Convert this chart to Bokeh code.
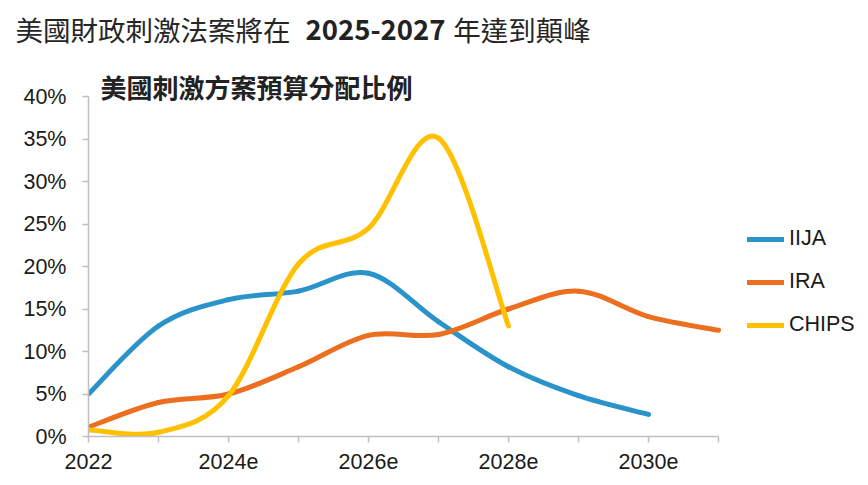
from bokeh.plotting import figure
from bokeh.models import (Range1d, FixedTicker, Legend, LegendItem, Label,
                          PrintfTickFormatter, ColumnDataSource)
from bokeh.embed import file_html
from bokeh.resources import INLINE

# ---- data ----
years = [2022, 2023, 2024, 2025, 2026, 2027, 2028, 2029, 2030, 2031]
tick_labels = ["2022", "", "2024e", "", "2026e", "", "2028e", "", "2030e", ""]
iija = [5.0, 13.0, 16.1, 17.1, 19.2, 13.5, 8.2, 4.8, 2.6]
ira = [1.1, 4.0, 5.0, 8.2, 11.9, 12.0, 15.0, 17.1, 14.1, 12.5]
chips = [0.8, 0.5, 4.8, 20.3, 24.5, 35.1, 13.0]
series_names = ["IIJA", "IRA", "CHIPS"]
series_colors = ["#2A93C9", "#EC6E1F", "#FFC000"]

title_a = "美國財政刺激法案將在"
title_b = "2025-2027"
title_c = "年達到顛峰"
subtitle = "美國刺激方案預算分配比例"
y_ticks = [0, 5, 10, 15, 20, 25, 30, 35, 40]

CJK = "Noto Sans CJK TC"
SANS = "Liberation Sans"

# ---- layout constants (pixels) ----
W, H = 868, 485
LEFT, TOP, BOTTOM = 88, 70, 49
PX_PER_YEAR = 70.0
PX_PER_PCT = 8.5
GAP = "\u3000" * 5 + "\u2002\u2005\u2006"   # room for the bold part of the title


def smooth_segments(xs, ys):
    """Cubic Bezier control points (Catmull-Rom style) for a smoothed line."""
    n = len(xs)
    d = dict(x0=[], y0=[], x1=[], y1=[], cx0=[], cy0=[], cx1=[], cy1=[])
    for i in range(n - 1):
        xp, yp = (xs[i - 1], ys[i - 1]) if i > 0 else (xs[i], ys[i])
        xn, yn = (xs[i + 2], ys[i + 2]) if i + 2 < n else (xs[i + 1], ys[i + 1])
        d["x0"].append(xs[i]); d["y0"].append(ys[i])
        d["x1"].append(xs[i + 1]); d["y1"].append(ys[i + 1])
        d["cx0"].append(xs[i] + (xs[i + 1] - xp) / 6.0)
        d["cy0"].append(ys[i] + (ys[i + 1] - yp) / 6.0)
        d["cx1"].append(xs[i + 1] - (xn - xs[i]) / 6.0)
        d["cy1"].append(ys[i + 1] - (yn - ys[i]) / 6.0)
    return ColumnDataSource(d)


x_end = years[0] + (W - LEFT) / PX_PER_YEAR
y_end = (H - TOP - BOTTOM) / PX_PER_PCT

p = figure(width=W, height=H, output_backend="svg", toolbar_location=None,
           x_range=Range1d(years[0], x_end), y_range=Range1d(0, y_end),
           min_border_left=LEFT, min_border_right=0, min_border_top=TOP,
           min_border_bottom=BOTTOM)
p.outline_line_color = None
p.xgrid.visible = False
p.ygrid.visible = False

for ax in (p.xaxis[0], p.yaxis[0]):
    ax.axis_line_color = "#BFBFBF"
    ax.axis_line_width = 1.5
    ax.major_tick_line_color = "#BFBFBF"
    ax.major_tick_line_width = 1.5
    ax.major_tick_in = 0
    ax.major_tick_out = 6
    ax.minor_tick_line_color = None
    ax.major_label_text_font = SANS
    ax.major_label_text_font_size = "21.5px"
    ax.major_label_text_color = "#1A1A1A"

p.xaxis.ticker = FixedTicker(ticks=years)
p.xaxis.bounds = (years[0], years[-1])
p.xaxis.major_label_overrides = {y: lab for y, lab in zip(years, tick_labels)}
p.xaxis.major_label_standoff = 11
p.yaxis.ticker = FixedTicker(ticks=y_ticks)
p.yaxis.bounds = (y_ticks[0], y_ticks[-1])
p.yaxis.formatter = PrintfTickFormatter(format="%d%%")
p.yaxis.major_label_standoff = 16

items = []
for name, vals, col in zip(series_names, [iija, ira, chips], series_colors):
    src = smooth_segments(years[:len(vals)], vals)
    r = p.bezier(x0="x0", y0="y0", x1="x1", y1="y1", cx0="cx0", cy0="cy0",
                 cx1="cx1", cy1="cy1", source=src, line_color=col,
                 line_width=5, line_cap="round")
    items.append(LegendItem(label=name, renderers=[r]))

legend = Legend(items=items, location=(659, 99), orientation="vertical",
                padding=0, margin=0, spacing=18, glyph_width=37,
                glyph_height=24, label_height=24, label_standoff=5,
                label_text_font=SANS, label_text_font_size="21.5px",
                label_text_color="#1A1A1A", border_line_color=None,
                background_fill_alpha=0)
p.add_layout(legend, "center")

# subtitle (inside the frame)
p.add_layout(Label(x=100, y=86, x_units="canvas", y_units="canvas", text=subtitle,
                   text_font=CJK, text_font_size="26px", text_font_style="bold",
                   text_color="#222222", text_baseline="middle"))

# main title (in the top panel): regular parts, then the bold years
p.add_layout(Label(x=15, y=28.5, x_units="canvas", y_units="canvas",
                   text=title_a + GAP + title_c, text_font=CJK,
                   text_font_size="27.5px", text_color="#262626",
                   text_baseline="middle"), "above")
p.add_layout(Label(x=305, y=28.5, x_units="canvas", y_units="canvas",
                   text=title_b, text_font=CJK, text_font_size="27.5px",
                   text_font_style="bold", text_color="#222222",
                   text_baseline="middle"), "above")

open("out.html", "w").write(file_html(p, INLINE))
